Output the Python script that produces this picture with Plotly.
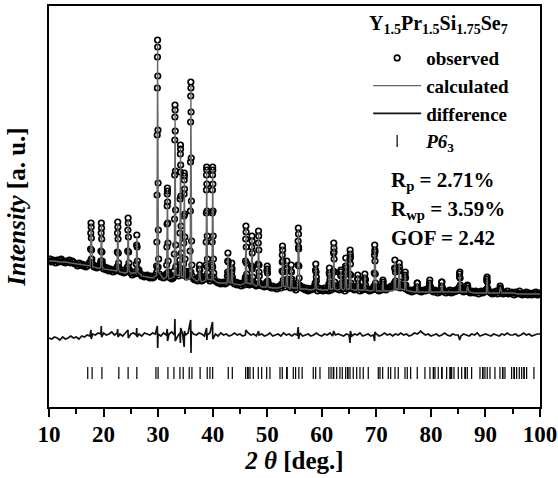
import plotly.graph_objects as go

# ---------------- data (arbitrary intensity units) ----------------
# observed pattern: regular 0.25 deg grid 10..100
obs_grid_start = 10.0
obs_grid_step = 0.25
obs_grid_counts = [
    146,148,145,147,146,144,147,145,147,148,145,146,144,146,145,147,144,146,145,143,
    143,141,144,142,143,141,142,140,141,143,145,148,143,140,141,139,140,142,146,143,
    138,140,137,139,136,138,137,135,137,136,138,140,136,135,137,134,135,137,140,137,
    134,132,135,133,134,136,137,133,131,132,130,131,132,130,129,131,129,130,132,135,
    140,133,130,131,129,130,131,134,130,129,128,129,131,140,133,131,138,136,132,136,
    133,130,131,132,135,131,128,127,128,126,130,131,126,127,128,130,140,128,126,128,
    140,129,126,125,124,125,123,124,125,123,124,135,128,125,135,126,123,125,122,124,
    123,121,124,122,130,128,124,122,123,138,124,122,121,123,135,122,121,122,120,121,
    138,123,120,119,121,119,120,118,120,121,119,145,125,120,126,124,121,119,128,120,
    119,117,122,160,121,119,120,118,117,119,116,118,117,119,118,122,130,116,119,117,
    118,116,119,117,118,116,127,117,119,155,121,118,119,117,135,118,119,116,135,118,
    122,150,121,118,117,119,121,120,116,118,117,119,127,118,117,116,118,117,119,155,
    120,117,116,118,117,125,118,117,118,119,120,121,120,122,135,123,122,140,122,120,
    119,132,118,117,116,117,115,117,116,118,124,116,117,115,116,117,116,118,117,124,
    119,116,115,117,116,114,116,115,125,117,116,114,116,115,117,114,116,115,117,116,
    118,133,119,116,115,117,116,121,115,114,116,115,114,116,115,113,115,116,114,115,
    116,128,117,115,114,113,115,114,116,113,115,119,114,113,115,114,116,113,114,115,
    114,112,115,113,114,116,113,112,114,113,115,112,114,113,112,114,113,115,112,114,
    113,
]

# observed points on the Bragg peaks
obs_peak_2theta = [
    17.56,17.62,17.66,17.70,17.73,17.76,17.80,17.85,17.92,
    19.46,19.52,19.56,19.60,19.63,19.66,19.70,19.75,19.82,
    22.46,22.52,22.56,22.60,22.63,22.66,22.70,22.75,22.82,
    24.36,24.42,24.46,24.50,24.53,24.56,24.60,24.65,24.72,
    26.00,26.06,26.10,26.15,26.21,26.28,
    29.72,29.77,29.81,29.84,29.86,29.88,29.90,29.92,29.94,29.97,30.00,30.04,30.10,
    31.52,31.57,31.61,31.64,31.66,31.68,31.70,31.72,31.74,31.77,31.80,31.84,31.90,
    32.92,32.97,33.01,33.04,33.06,33.08,33.10,33.12,33.14,33.17,33.20,33.24,33.30,
    33.92,33.97,34.01,34.04,34.06,34.08,34.10,34.12,34.14,34.17,34.20,34.24,34.30,
    34.62,34.67,34.71,34.74,34.76,34.78,34.80,34.82,34.84,34.87,34.90,34.94,35.00,
    35.82,35.87,35.91,35.94,35.96,35.98,36.00,36.02,36.04,36.07,36.10,36.14,36.20,
    37.50,37.56,37.60,37.65,37.71,37.78,
    38.72,38.77,38.81,38.84,38.86,38.88,38.90,38.92,38.94,38.97,39.00,39.04,39.10,
    39.82,39.87,39.91,39.94,39.96,39.98,40.00,40.02,40.04,40.07,40.10,40.14,40.20,
    42.70,42.76,42.80,42.85,42.91,42.98,
    43.40,43.46,43.50,43.55,43.61,43.68,
    45.96,46.02,46.06,46.10,46.13,46.16,46.20,46.25,46.32,
    47.06,47.12,47.16,47.20,47.23,47.26,47.30,47.35,47.42,
    48.26,48.32,48.36,48.40,48.43,48.46,48.50,48.55,48.62,
    49.90,49.96,50.00,50.05,50.11,50.18,
    52.66,52.72,52.76,52.80,52.83,52.86,52.90,52.95,53.02,
    53.50,53.56,53.60,53.65,53.71,53.78,
    54.30,54.36,54.40,54.45,54.51,54.58,
    55.56,55.62,55.66,55.70,55.73,55.76,55.80,55.85,55.92,
    58.80,58.86,58.90,58.95,59.01,59.08,
    61.30,61.36,61.40,61.45,61.51,61.58,
    62.06,62.12,62.16,62.20,62.23,62.26,62.30,62.35,62.42,
    63.40,63.46,63.50,63.55,63.61,63.68,
    64.30,64.36,64.40,64.45,64.51,64.58,
    65.06,65.12,65.16,65.20,65.23,65.26,65.30,65.35,65.42,
    66.50,66.56,66.60,66.65,66.71,66.78,
    67.80,67.86,67.90,67.95,68.01,68.08,
    69.56,69.62,69.66,69.70,69.73,69.76,69.80,69.85,69.92,
    71.15,71.20,71.27,
    73.30,73.36,73.40,73.45,73.51,73.58,
    74.10,74.16,74.20,74.25,74.31,74.38,
    75.20,75.26,75.30,75.35,75.41,75.48,
    77.45,77.50,77.57,
    79.75,79.80,79.87,
    81.95,82.00,82.07,
    85.20,85.26,85.30,85.35,85.41,85.48,
    86.65,86.70,86.77,
    90.20,90.26,90.30,90.35,90.41,90.48,
    92.65,92.70,92.77,
]
obs_peak_counts = [
    144,158,174,184,180,169,157,148,143,
    143,156,174,184,179,168,155,146,141,
    140,155,174,185,180,168,154,144,138,
    140,156,177,189,184,170,155,144,137,
    143,162,172,160,146,138,
    141,165,212,272,319,350,367,360,331,277,224,177,148,
    133,142,160,183,201,213,219,216,205,184,164,146,135,
    136,153,188,232,267,290,302,297,276,236,197,162,141,
    134,147,174,208,235,253,262,258,242,211,181,154,138,
    132,143,164,191,213,227,234,231,218,193,170,148,136,
    136,156,196,245,285,311,325,319,295,249,206,166,142,
    130,138,142,137,131,128,
    131,142,165,194,217,232,240,237,223,196,171,148,134,
    131,142,165,194,217,232,240,237,223,196,171,148,134,
    131,146,154,145,133,127,
    128,139,144,138,130,126,
    128,146,168,181,175,160,144,133,126,
    126,141,160,171,166,154,140,130,124,
    127,143,164,176,171,157,142,131,124,
    125,136,141,134,126,122,
    123,136,152,161,157,146,135,127,122,
    126,139,146,138,128,122,
    124,136,142,135,126,121,
    124,142,166,179,173,158,141,129,122,
    124,137,143,135,126,120,
    123,134,139,132,124,120,
    122,136,154,164,159,148,135,125,120,
    122,132,137,131,124,119,
    125,141,149,139,128,121,
    121,133,148,157,153,143,132,124,119,
    121,128,132,128,122,119,
    120,129,133,128,122,118,
    121,134,152,162,157,146,133,124,119,
    123,127,122,
    124,139,147,138,126,120,
    123,137,144,136,125,119,
    121,130,135,129,122,118,
    120,124,120,
    122,127,121,
    121,125,120,
    120,130,135,129,122,117,
    119,122,118,
    118,126,130,125,119,116,
    118,121,117,
]

# calculated profile: background vertices + peak vertices
calc_bg_2theta = [10,11,12,13,14,15,16,17,18,19,20,21,22,23,24,25,27,28,29,31,32,35,37,38,41,42,44,45,
                  48,49,51,52,54,56,57,58,60,61,63,64,66,67,69,70,72,73,76,77,78,79,81,83,84,86,87,
                  88,89,91,92,93,94,95,96,97,98,99,100]
calc_bg_counts = [146,146,145,145,144,143,142,141,140,139,138,137,136,135,134,134,131,130,129,128,128,127,126,125,124,124,123,122,
                  121,120,119,119,119,118,118,117,117,117,117,117,117,117,116,116,116,116,116,115,115,115,115,115,115,115,115,
                  114,114,114,114,114,114,114,113,113,113,113,113]
calc_peak_2theta = [
    17.55,17.71,17.87, 19.45,19.61,19.77, 22.45,22.61,22.77, 24.35,24.51,24.67, 25.95,26.11,26.27,
    29.75,29.91,30.07, 31.55,31.71,31.87, 32.95,33.11,33.27, 33.95,34.11,34.27, 34.65,34.81,34.97,
    35.85,36.01,36.17, 37.45,37.61,37.77, 38.75,38.91,39.07, 39.85,40.01,40.17, 42.65,42.81,42.97,
    43.35,43.51,43.67, 45.95,46.11,46.27, 47.05,47.21,47.37, 48.25,48.41,48.57, 49.85,50.01,50.17,
    52.65,52.81,52.97, 53.45,53.61,53.77, 54.25,54.41,54.57, 55.55,55.71,55.87, 58.75,58.91,59.07,
    61.25,61.41,61.57, 62.05,62.21,62.37, 63.35,63.51,63.67, 64.25,64.41,64.57, 65.05,65.21,65.37,
    66.45,66.61,66.77, 67.75,67.91,68.07, 69.55,69.71,69.87, 71.05,71.21,71.37, 73.25,73.41,73.57,
    74.05,74.21,74.37, 75.15,75.31,75.47, 77.35,77.51,77.67, 79.65,79.81,79.97, 81.85,82.01,82.17,
    85.15,85.31,85.47, 86.55,86.71,86.87, 90.15,90.31,90.47, 92.55,92.71,92.87,
]
calc_peak_counts = [
    141,183,142, 139,183,140, 136,184,137, 135,188,136, 134,171,135,
    132,365,135, 130,217,131, 130,299,132, 131,260,131, 130,232,130,
    129,322,130, 127,141,127, 127,238,128, 127,238,127, 124,153,125,
    124,143,124, 124,180,124, 123,170,123, 122,175,122, 120,140,120,
    120,160,121, 120,145,120, 119,141,119, 119,178,119, 118,142,118,
    118,138,118, 118,163,118, 118,136,118, 118,148,118, 118,156,118,
    117,131,117, 117,132,117, 117,161,117, 116,126,116, 118,146,118,
    118,143,118, 117,134,117, 115,123,115, 115,126,115, 115,124,115,
    115,134,115, 115,121,115, 114,129,114, 114,120,114,
]

# difference curve (offset below the pattern): 0.5 deg grid + spikes at strong peaks
diff_grid_start = 10.0
diff_grid_step = 0.5
diff_grid_counts = [
    69,68,70,69,67,70,68,69,71,69,
    70,68,71,70,72,71,73,72,74,73,
    74,72,73,75,72,74,73,71,74,72,
    73,74,72,73,71,74,73,72,74,73,
    73,71,74,72,73,75,72,70,74,73,
    72,74,71,73,72,74,73,71,72,74,
    72,73,71,74,72,73,71,72,74,72,
    73,71,72,74,72,73,71,72,73,71,
    72,74,71,72,73,71,74,72,73,71,
    73,72,74,71,72,73,71,72,74,72,
    71,73,72,74,71,72,73,72,71,73,
    72,71,73,72,74,71,72,73,71,72,
    73,71,72,74,72,73,71,73,72,74,
    72,73,71,72,74,73,75,74,72,73,
    71,72,73,71,72,74,72,71,73,72,
    72,71,73,72,71,73,72,74,71,72,
    73,72,71,73,72,71,73,72,74,72,
    72,73,71,72,74,72,73,71,72,73,
    73,
]
diff_spike_2theta = [17.68,17.74,19.58,19.64,22.58,22.64,24.48,24.54,26.08,26.14,
                     29.86,29.92,29.97,31.68,31.73,33.08,33.14,34.08,34.14,34.78,34.84,
                     35.97,36.03,36.08,38.88,38.94,39.98,40.04,46.08,48.42,55.68,55.74,
                     62.18,65.18,65.24,69.68,69.74,78.1,85.28]
diff_spike_counts = [77,68,81,70,78,70,77,69,79,70,
                     81,59,78,78,66,88,66,64,79,60,76,
                     87,54,76,79,67,85,68,77,76,80,68,
                     76,64,76,66,75,76,67]

# Bragg reflection positions (space group P6_3)
bragg_2theta = [17.1,17.9,19.7,22.8,24.5,26.1,29.6,30.0,31.8,32.9,34.0,34.6,35.7,36.2,37.7,39.0,39.5,40.0,
                42.86,43.6,46.05,46.42,46.5,46.84,47.45,48.36,48.98,49.9,50.5,52.34,52.76,53.57,53.65,
                54.78,55.2,55.8,56.4,58.44,58.88,59.67,61.3,61.7,62.1,62.2,62.73,63.33,63.76,64.38,64.75,64.8,
                65.17,65.77,66.4,67.0,67.6,68.52,70.36,70.67,71.16,72.19,72.63,73.42,74.02,75.25,75.67,
                76.29,77.5,78.91,79.83,80.44,80.5,80.75,81.35,81.98,82.05,82.89,83.5,83.55,83.81,84.23,
                85.02,85.64,86.25,86.3,86.67,87.47,89.0,89.49,89.55,89.91,90.33,90.83,91.74,92.66,93.15,
                93.2,93.58,94.8,95.23,95.3,95.72,96.2,96.64,97.06,97.1,97.55,98.89]
bragg_level = 34

x_ticks = [10, 20, 30, 40, 50, 60, 70, 80, 90, 100]
formula_text = "Y<sub>1.5</sub>Pr<sub>1.5</sub>Si<sub>1.75</sub>Se<sub>7</sub>"
stats_text = ["R<sub>p</sub> = 2.71%", "R<sub>wp</sub> = 3.59%", "GOF = 2.42"]
stats_y = [0.5636, 0.4913, 0.4214]

# ---------------- assemble series ----------------
obs_x = [obs_grid_start + i * obs_grid_step for i in range(len(obs_grid_counts))] + obs_peak_2theta
obs_y = obs_grid_counts + obs_peak_counts

calc_pts = sorted(zip(calc_bg_2theta + calc_peak_2theta, calc_bg_counts + calc_peak_counts))
calc_x = [p[0] for p in calc_pts]
calc_y = [p[1] for p in calc_pts]

diff_pts = sorted(zip([diff_grid_start + i * diff_grid_step for i in range(len(diff_grid_counts))] + diff_spike_2theta,
                      diff_grid_counts + diff_spike_counts))
diff_x = [p[0] for p in diff_pts]
diff_y = [p[1] for p in diff_pts]

FONT = "Liberation Serif"

fig = go.Figure()
fig.add_trace(go.Scatter(x=obs_x, y=obs_y, mode="markers", name="observed",
                         marker=dict(symbol="circle-open", size=5.5, color="black",
                                     line=dict(color="black", width=1.7))))
fig.add_trace(go.Scatter(x=calc_x, y=calc_y, mode="lines", name="calculated",
                         line=dict(color="#666666", width=1.3)))
fig.add_trace(go.Scatter(x=diff_x, y=diff_y, mode="lines", name="difference",
                         line=dict(color="#111111", width=1.7)))
fig.add_trace(go.Scatter(x=bragg_2theta, y=[bragg_level] * len(bragg_2theta), mode="markers",
                         name="<i>P6</i><sub>3</sub>",
                         marker=dict(symbol="line-ns", size=8.5, color="black",
                                     line=dict(color="black", width=1.2))))

fig.add_annotation(text=formula_text, xref="paper", yref="paper", x=0.6477, y=0.953,
                   xanchor="left", yanchor="middle", showarrow=False,
                   font=dict(family=FONT, size=20, color="black", weight="bold"))
for t, yy in zip(stats_text, stats_y):
    fig.add_annotation(text=t, xref="paper", yref="paper", x=0.6925, y=yy,
                       xanchor="left", yanchor="middle", showarrow=False,
                       font=dict(family=FONT, size=21, color="black", weight="bold"))

fig.update_layout(
    width=558, height=478,
    margin=dict(l=49, r=18, t=6, b=71),
    paper_bgcolor="white", plot_bgcolor="white",
    font=dict(family=FONT, size=20, color="black", weight="bold"),
    showlegend=True,
    legend=dict(x=0.65, y=0.9175, xanchor="left", yanchor="top",
                bgcolor="rgba(0,0,0,0)", itemwidth=48,
                font=dict(family=FONT, size=19, color="black", weight="bold"),
                tracegroupgap=0),
    xaxis=dict(range=[10, 100], tickvals=x_ticks, ticks="outside", ticklen=8, tickwidth=2,
               tickcolor="black", showline=True, linecolor="black", linewidth=2, mirror=True,
               showgrid=False, zeroline=False, automargin=False, ticklabelstandoff=-3,
               minor=dict(dtick=5, ticks="outside", ticklen=5, tickwidth=2, tickcolor="black"),
               tickfont=dict(family=FONT, size=23, color="black", weight="bold"),
               title=dict(text="<i>2 θ</i> [deg.]", standoff=0,
                          font=dict(family=FONT, size=25, color="black", weight="bold"))),
    yaxis=dict(range=[0, 401], showticklabels=False, ticks="", showline=True, linecolor="black",
               linewidth=2, mirror=True, showgrid=False, zeroline=False, automargin=False,
               title=dict(text="<i>Intensity</i> [a. u.]", standoff=14,
                          font=dict(family=FONT, size=25, color="black", weight="bold"))),
)

fig.write_html("out.html", config={"displayModeBar": False},
               post_script="document.body.style.margin='0px';")
